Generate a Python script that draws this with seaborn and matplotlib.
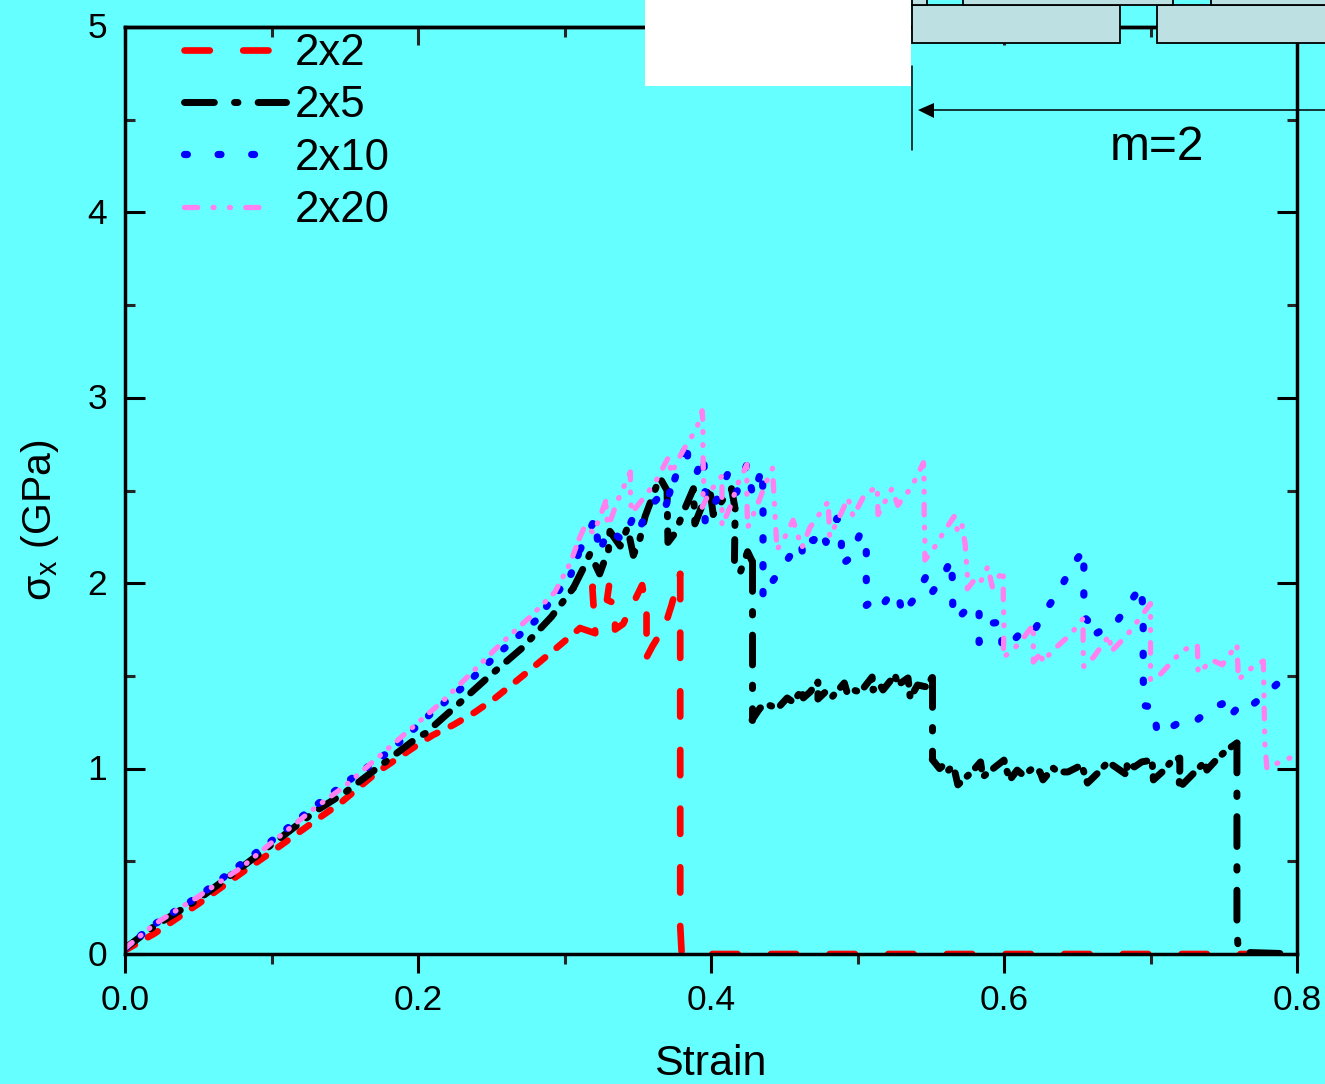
import matplotlib
matplotlib.use("Agg")
import matplotlib.pyplot as plt
import pandas as pd
import seaborn as sns
from matplotlib.legend_handler import HandlerLine2D
from matplotlib.lines import Line2D
from matplotlib.patches import Rectangle, Polygon
from matplotlib.ticker import MultipleLocator, FormatStrFormatter
from matplotlib.transforms import ScaledTranslation

# ---------- data (each series in consecutive stretches) ----------
x_2x2_rise = [0,.02,.05,.08,.1,.13,.147,.172,.2,.21,.224,.239,.2526,.268,.283,.297,.3106]
y_2x2_rise = [.02,.11,.27,.44,.55,.72,.814,.98,1.13,1.18,1.235,1.305,1.38,1.478,1.575,1.667,1.758]
x_2x2_zig = [.3106,.321,.319,.331,.329,.3345,.3345,.34,.353,.356,.356,.36,.3686,.373,.379]
y_2x2_zig = [1.758,1.73,1.98,2.02,1.91,1.89,1.75,1.78,1.99,1.84,1.60,1.66,1.77,1.88,2.05]
x_2x2_end = [.379,.379,.38,.8]
y_2x2_end = [2.05,.15,0,0]

x_2x5_rise = [0,.02,.05,.08,.1,.13,.15,.18,.2,.205,.225,.248,.271,.291,.306]
y_2x5_rise = [.03,.15,.295,.47,.59,.77,.87,1.05,1.17,1.19,1.33,1.494,1.65,1.818,1.974]
x_2x5_zig = [.306,.3128,.3175,.324,.33,.331,.338,.343,.347,.3515,.355,.365,.37,.3706,.3755,.382,.388,.389,.399,.4015,.408,.414,.4165,.416,.42,.425,.428]
y_2x5_zig = [1.974,2.08,2.16,2.05,2.18,2.28,2.2,2.3,2.15,2.24,2.36,2.57,2.5,2.22,2.27,2.4,2.51,2.32,2.52,2.37,2.45,2.51,2.4,2.12,2.06,2.17,2.12]
x_2x5_drop1 = [.428,.428]
y_2x5_drop1 = [2.12,1.262]
x_2x5_plateau = [.428,.4335,.439,.4457,.452,.456,.462,.463,.4676,.473,.473,.478,.4826,.488,.491,.493,.497,.502,.51,.5106,.5154,.5174,.5256,.5276,.5345,.536,.541,.5474,.551]
y_2x5_plateau = [1.262,1.327,1.343,1.327,1.381,1.359,1.424,1.381,1.413,1.467,1.375,1.413,1.386,1.435,1.462,1.408,1.424,1.413,1.494,1.424,1.451,1.424,1.505,1.451,1.489,1.381,1.451,1.44,1.494]
x_2x5_drop2 = [.551,.551]
y_2x5_drop2 = [1.494,1.05]
x_2x5_low = [.551,.556,.559,.562,.5645,.5665,.5685,.578,.584,.5855,.594,.6,.6007,.604,.609,.613,.62,.6246,.6266,.6335,.637,.6437,.653,.657,.664,.671,.676,.684,.684,.689,.694,.701,.702,.708,.715,.72,.72,.7195,.727,.737,.7385,.746,.753,.759]
y_2x5_low = [1.05,1.0,1.02,.99,1.01,.982,.912,.982,1.036,.955,1.009,1.046,1.019,.939,.992,.965,1.003,.982,.939,1.003,.982,.982,1.019,.922,.976,1.036,1.009,.965,1.03,1.009,1.036,1.046,.939,.982,1.046,1.057,.992,.895,.955,1.036,.992,1.057,1.106,1.138]
x_2x5_end = [.759,.759,.76,.8]
y_2x5_end = [1.138,.13,.01,0]

x_2x10_rise = [0,.02,.05,.08,.1,.13,.15,.18,.207,.23,.253,.28,.304,.3106]
y_2x10_rise = [.03,.16,.31,.49,.61,.8,.92,1.09,1.284,1.435,1.607,1.796,2.04,2.18]
x_2x10_rest = [.3106,.321,.3235,.33,.34,.346,.35,.357,.365,.373,.368,.379,.384,.384,.39,.395,.396,.396,.4,.405,.4075,.412,.415,.4175,.4245,.4285,.435,.4355,.4355,.4355,.4355,.442,.449,.455,.463,.461,.47,.475,.4785,.486,.489,.489,.494,.502,.506,.506,.506,.511,.516,.5235,.528,.5305,.539,.547,.55,.558,.564,.565,.565,.571,.578,.583,.583,.592,.5985,.5985,.6075,.616,.621,.63,.639,.647,.6545,.6545,.6545,.657,.659,.6675,.674,.683,.6935,.695,.695,.695,.6955,.7025,.7045,.7135,.722,.73,.7405,.749,.753,.764,.7705,.78,.791,.8]
y_2x10_rest = [2.18,2.35,2.16,2.29,2.23,2.34,2.27,2.4,2.47,2.52,2.39,2.65,2.77,2.63,2.59,2.69,2.5,2.33,2.39,2.47,2.52,2.6,2.57,2.49,2.64,2.47,2.62,2.46,2.28,2.10,1.92,2.01,2.09,2.16,2.13,2.25,2.23,2.29,2.22,2.35,2.28,2.10,2.13,2.27,2.25,2.06,1.88,1.91,1.87,1.95,1.94,1.83,1.92,2.04,1.94,2.03,2.13,1.98,1.81,1.83,1.89,1.85,1.68,1.785,1.79,1.645,1.70,1.77,1.75,1.87,1.98,2.10,2.18,2.0,1.82,1.80,1.71,1.75,1.76,1.86,1.985,1.85,1.67,1.50,1.34,1.33,1.19,1.22,1.26,1.25,1.32,1.35,1.27,1.37,1.35,1.41,1.49,1.5]

x_2x20_rise = [0,.02,.05,.08,.1,.13,.15,.19,.2164,.237,.257,.2765,.2935,.304,.31]
y_2x20_rise = [.03,.16,.31,.47,.6,.79,.905,1.18,1.36,1.52,1.677,1.818,1.953,2.11,2.24]
x_2x20_rest = [.31,.314,.32,.329,.328,.33,.3365,.345,.345,.346,.357,.363,.371,.373,.377,.3835,.39,.394,.3945,.3945,.395,.394,.399,.4075,.4075,.413,.4185,.4245,.4245,.425,.431,.438,.442,.443,.444,.445,.4505,.456,.462,.4675,.48,.481,.489,.4935,.497,.505,.5135,.514,.5235,.5275,.537,.545,.5455,.5455,.546,.546,.5515,.56,.566,.568,.571,.5735,.575,.575,.579,.583,.589,.592,.596,.5995,.5995,.6,.5995,.606,.612,.6165,.62,.62,.626,.626,.635,.645,.654,.654,.6545,.661,.672,.673,.684,.6935,.70,.70,.70,.7045,.7145,.722,.732,.7325,.742,.749,.759,.76,.77,.777,.7775,.778,.7795,.7905,.8]
y_2x20_rest = [2.24,2.31,2.27,2.46,2.38,2.31,2.45,2.6,2.45,2.38,2.49,2.56,2.68,2.59,2.66,2.75,2.83,2.93,2.86,2.70,2.54,2.41,2.49,2.58,2.31,2.41,2.54,2.64,2.45,2.30,2.41,2.55,2.62,2.47,2.33,2.18,2.25,2.34,2.19,2.30,2.44,2.25,2.38,2.46,2.36,2.48,2.52,2.37,2.51,2.42,2.52,2.65,2.54,2.38,2.22,2.125,2.18,2.29,2.36,2.29,2.33,2.21,2.04,1.97,2.01,1.99,2.09,1.98,2.03,2.07,1.925,1.76,1.60,1.64,1.69,1.74,1.775,1.575,1.63,1.575,1.65,1.72,1.81,1.64,1.55,1.60,1.72,1.63,1.72,1.82,1.89,1.68,1.48,1.49,1.575,1.64,1.665,1.515,1.585,1.56,1.67,1.48,1.55,1.58,1.385,1.14,1.0,1.045,1.07]

labels = ["2x2", "2x5", "2x10", "2x20"]
x_ticks_major = [0.0, 0.2, 0.4, 0.6, 0.8]
y_ticks_major = [0, 1, 2, 3, 4, 5]

# ---------- style ----------
W, H, BG = 1325, 1084, "#66FFFF"
sns.set_theme(style="ticks", rc={"axes.facecolor": BG, "figure.facecolor": BG})
plt.rcParams["font.family"] = ["Liberation Sans", "DejaVu Sans"]
plt.rcParams["lines.dash_capstyle"] = "round"
plt.rcParams["lines.solid_capstyle"] = "round"
plt.rcParams["mathtext.fontset"] = "custom"
plt.rcParams["mathtext.rm"] = "Liberation Sans"

fig = plt.figure(figsize=(W / 100, H / 100), dpi=100)
ax = fig.add_axes([125 / W, 1 - 954 / H, (1297 - 125) / W, (954 - 27) / H])

styles = {
    "2x2": ("#FF0000", 4.8, (3.8, 5.0)),
    "2x5": ("#000000", 5.0, (4.3, 2.9, 0.5, 2.9)),
    "2x10": ("#0000FF", 5.2, (0.4, 4.25)),
    "2x20": ("#FF80F0", 3.8, (2.5, 2.9, 0.2, 2.9, 0.2, 2.9)),
}

def draw(name, xs, ys, scale):
    color, lw, dash = styles[name]
    df = pd.DataFrame({"x": xs, "y": ys})
    sns.lineplot(data=df, x="x", y="y", sort=False, estimator=None, ax=ax, color=color,
                 linewidth=lw, linestyle=(0, tuple(d * scale for d in dash)), legend=False)

draw("2x2", x_2x2_rise, y_2x2_rise, 0.45)
draw("2x2", x_2x2_zig, y_2x2_zig, 0.75)
draw("2x2", x_2x2_end, y_2x2_end, 1.0)
draw("2x5", x_2x5_rise, y_2x5_rise, 0.65)
draw("2x5", x_2x5_zig, y_2x5_zig, 0.7)
draw("2x5", x_2x5_drop1, y_2x5_drop1, 1.0)
draw("2x5", x_2x5_plateau, y_2x5_plateau, 0.5)
draw("2x5", x_2x5_drop2, y_2x5_drop2, 1.0)
draw("2x5", x_2x5_low, y_2x5_low, 0.5)
draw("2x5", x_2x5_end, y_2x5_end, 1.0)
draw("2x10", x_2x10_rise, y_2x10_rise, 0.6)
draw("2x10", x_2x10_rest, y_2x10_rest, 0.8)
draw("2x20", x_2x20_rise, y_2x20_rise, 0.7)
draw("2x20", x_2x20_rest, y_2x20_rest, 0.8)

ax.set_xlim(0, 0.8)
ax.set_ylim(0, 5)
ax.set_xticks(x_ticks_major)
ax.set_yticks(y_ticks_major)
ax.xaxis.set_minor_locator(MultipleLocator(0.1))
ax.yaxis.set_minor_locator(MultipleLocator(0.5))
ax.xaxis.set_major_formatter(FormatStrFormatter("%.1f"))
ax.tick_params(axis="y", which="major", direction="in", length=14.4, width=2.2, left=True, right=True,
               labelsize=25.5, pad=13, colors="black")
ax.tick_params(axis="y", which="minor", direction="in", length=7.5, width=2.2, left=True, right=True)
ax.tick_params(axis="x", which="major", direction="out", length=13.7, width=2.2, bottom=True,
               labelsize=25.5, pad=8, colors="black")
ax.tick_params(axis="x", which="minor", direction="out", length=7.2, width=2.2, bottom=True)
for s in ax.spines.values():
    s.set_linewidth(2.5)
    s.set_color("black")
    s.set_visible(True)
# the top edge carries inward ticks of its own
top = ax.secondary_xaxis("top")
top.set_xticks(x_ticks_major)
top.xaxis.set_minor_locator(MultipleLocator(0.1))
top.tick_params(axis="x", which="major", direction="in", length=13, width=2.2, labeltop=False)
top.tick_params(axis="x", which="minor", direction="in", length=7.2, width=2.2)
top.spines["top"].set_linewidth(2.5)

for lab in ax.get_yticklabels():
    lab.set_transform(lab.get_transform() + ScaledTranslation(0, 1.5 / 100, fig.dpi_scale_trans))

ax.set_xlabel("")
ax.set_ylabel("")
fig.text(710 / W, 1 - 1064 / H, "Strain", fontsize=31, ha="center", va="center", color="black")
fig.text(40 / W, 1 - 520 / H, r"σ$_{\mathrm{x}}$ (GPa)", fontsize=29.5, rotation=90,
         ha="center", va="center", color="black")

class LongLine(HandlerLine2D):
    def create_artists(self, legend, orig, xd, yd, w, h, fs, trans):
        return super().create_artists(legend, orig, xd, yd, w * 1.17, h, fs, trans)

handles = [Line2D([], [], color=styles[n][0], lw=styles[n][1], linestyle=(0, styles[n][2])) for n in labels]
leg = ax.legend(handles, labels, loc="upper left",
                bbox_to_anchor=((184 - 125) / (1297 - 125), 1.0 - 6 / 927),
                frameon=False, fontsize=31.5, handlelength=2.0, handletextpad=0.53, borderpad=0,
                borderaxespad=0, labelspacing=0.26, handler_map={handles[1]: LongLine()})
for t in leg.get_texts():
    t.set_color("black")

# ---------- pasted inset at the top right ----------
def R(x0, y0, x1, y1, **kw):
    fig.add_artist(Rectangle((x0 / W, 1 - y1 / H), (x1 - x0) / W, (y1 - y0) / H,
                             transform=fig.transFigure, zorder=5, **kw))

def L(x0, y0, x1, y1, lw):
    fig.add_artist(Line2D([x0 / W, x1 / W], [1 - y0 / H, 1 - y1 / H], transform=fig.transFigure,
                          color="black", lw=lw, zorder=6))

R(645, 0, 911, 86, facecolor="white", edgecolor="none")
box = dict(facecolor="#BDE0E3", edgecolor="black", linewidth=1.3)
for bx in [(912, 5, 1120, 43), (1157, 5, 1340, 43), (912, -5, 927, 5), (963, -5, 1173, 5), (1211, -5, 1340, 5)]:
    R(*bx, **box)
L(912, 66, 912, 150, 1.1)
L(932, 110, 1325, 110, 1.1)
fig.add_artist(Polygon([(918 / W, 1 - 110 / H), (934 / W, 1 - 103 / H), (934 / W, 1 - 118 / H)],
                       closed=True, facecolor="black", edgecolor="none", transform=fig.transFigure, zorder=6))
fig.text(1157 / W, 1 - 148 / H, "m=2", fontsize=34.5, ha="center", va="center", color="black", zorder=7)

fig.savefig("out.png", dpi=100, facecolor=BG)
